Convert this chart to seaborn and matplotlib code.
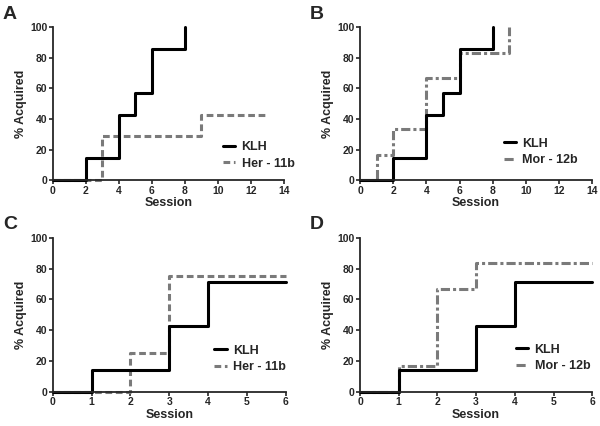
import matplotlib
matplotlib.use('Agg')
import matplotlib.pyplot as plt
import seaborn as sns

# session at which each step starts, and % acquired from there
a_klh_x = [0, 2, 4, 5, 6, 8, 8]
a_klh_y = [0, 14.3, 42.9, 57.1, 85.7, 100, 100]
a_her_x = [0, 3, 9, 13]
a_her_y = [0, 28.6, 42.9, 42.9]

b_klh_x = [0, 2, 4, 5, 6, 8, 8]
b_klh_y = [0, 14.3, 42.9, 57.1, 85.7, 100, 100]
b_mor_x = [0, 1, 2, 4, 6, 9, 9]
b_mor_y = [0, 16.7, 33.3, 66.7, 83.3, 100, 100]

c_klh_x = [0, 1, 3, 4, 6]
c_klh_y = [0, 14.3, 42.9, 71.4, 71.4]
c_her_x = [0, 2, 3, 6]
c_her_y = [0, 25, 75, 75]

d_klh_x = [0, 1, 3, 4, 6]
d_klh_y = [0, 14.3, 42.9, 71.4, 71.4]
d_mor_x = [0, 1, 2, 3, 6]
d_mor_y = [0, 16.7, 66.7, 83.3, 83.3]

sns.set_style('ticks')
plt.rcParams['font.family'] = ['Liberation Sans', 'DejaVu Sans']
plt.rcParams['font.weight'] = 'bold'

fig = plt.figure(figsize=(6, 4.26), dpi=100)

panels = [
    ('A', [0.088, 0.577, 0.385, 0.359], a_klh_x, a_klh_y, a_her_x, a_her_y, 'Her - 11b', (0, (2.2, 1.2)), 14, 2, (1.095, -0.005)),
    ('B', [0.600, 0.577, 0.387, 0.359], b_klh_x, b_klh_y, b_mor_x, b_mor_y, 'Mor - 12b', (0, (3, 1, 1, 1)), 14, 2, (0.987, 0.02)),
    ('C', [0.088, 0.080, 0.388, 0.362], c_klh_x, c_klh_y, c_her_x, c_her_y, 'Her - 11b', (0, (2.2, 1.2)), 6, 1, (1.05, 0.05)),
    ('D', [0.600, 0.080, 0.387, 0.362], d_klh_x, d_klh_y, d_mor_x, d_mor_y, 'Mor - 12b', (0, (3, 1, 1, 1)), 6, 1, (1.04, 0.055)),
]

for letter, pos, kx, ky, gx, gy, glab, gdash, xmax, xstep, leg_at in panels:
    ax = fig.add_axes(pos)
    sns.lineplot(x=gx, y=gy, ax=ax, color='#7a7a7a', lw=2.2, drawstyle='steps-post',
                 label=glab, clip_on=False).lines[-1].set_linestyle(gdash)
    sns.lineplot(x=kx, y=ky, ax=ax, color='black', lw=2.2, drawstyle='steps-post',
                 label='KLH', clip_on=False)
    ax.set_xlim(0, xmax)
    ax.set_ylim(0, 100)
    ax.set_xticks(range(0, xmax + 1, xstep))
    ax.set_yticks(range(0, 101, 20))
    ax.tick_params(labelsize=7.5, width=1.2, length=3, pad=1)
    for s in ['left', 'bottom']:
        ax.spines[s].set_linewidth(1.3)
    sns.despine(ax=ax)
    ax.set_xlabel('Session', fontsize=9, fontweight='bold', labelpad=1)
    ax.set_ylabel('% Acquired', fontsize=9, fontweight='bold', labelpad=2)
    h, l = ax.get_legend_handles_labels()
    ax.legend(h[::-1], l[::-1], loc='lower right', bbox_to_anchor=leg_at, frameon=False,
              fontsize=9, handlelength=1.0, handletextpad=0.5, labelspacing=0.35)
    fig.text(pos[0] - 0.083, pos[1] + pos[3] + 0.02, letter, fontsize=14, fontweight='bold')

fig.savefig('out.png', dpi=100)
